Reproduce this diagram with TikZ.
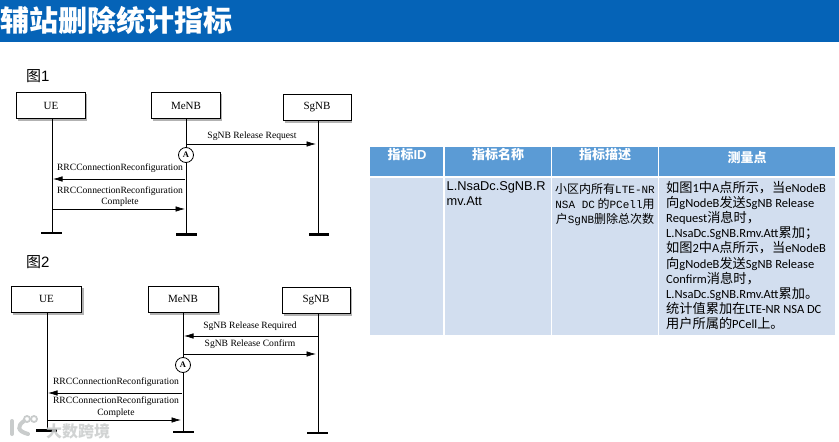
\documentclass[tikz,border=0pt]{standalone}
\usepackage{fontspec}
\setmainfont{Liberation Serif}
\newfontfamily\cjk{Noto Sans CJK SC}
\newfontfamily\sansf{Liberation Sans}
\newfontfamily\calib{Carlito}
\newfontfamily\monof{Liberation Mono}
\usetikzlibrary{arrows.meta}
\definecolor{barblue}{HTML}{0563B7}
\definecolor{headblue}{HTML}{5B9BD5}
\definecolor{cellblue}{HTML}{D2DEEF}
\definecolor{wmgray}{HTML}{C9CCCC}
\newcommand{\zh}[1]{{\cjk\fontsize{13.2}{15}\selectfont #1}}
\newcommand{\zd}[1]{{\monof\fontsize{11}{15}\selectfont #1}}
\tikzset{
  x=1pt,y=-1pt,
  entity/.style={draw=black,line width=0.8pt,fill=white,minimum height=26pt,inner sep=0pt,font=\fontsize{11}{12}\selectfont},
  shade box/.style={fill=black!30,draw=none},
  life/.style={line width=0.9pt},
  stopbar/.style={line width=2.8pt},
  msg/.style={line width=0.7pt,-{Latex[length=9.5pt,width=5.5pt]}},
  msglabel/.style={inner sep=0pt,font=\fontsize{9.6}{11.5}\selectfont,align=center},
  markA/.style={circle,draw=black,line width=0.8pt,fill=white,minimum size=15pt,inner sep=0pt,font=\bfseries\fontsize{8.5}{9}\selectfont},
  figlabel/.style={inner sep=0pt,anchor=west,font=\fontsize{15}{16}\selectfont},
  headtext/.style={inner sep=0pt,text=white,font=\cjk\bfseries\fontsize{13}{15}\selectfont},
  celltext/.style={inner sep=0pt,align=left,anchor=north west}
}
\begin{document}
\begin{tikzpicture}
\useasboundingbox (0,0) rectangle (839,442);
\fill[white] (0,0) rectangle (839,442);
\fill[barblue] (0,0) rectangle (839,42);
\node[inner sep=0pt,anchor=west,text=white] (title) at (0,20) {\cjk\bfseries\fontsize{29}{30}\selectfont 辅站删除统计指标};

% Figure 1
\node[figlabel] (f1) at (26,76) {\cjk 图{\sansf 1}};
\fill[shade box] (18,94) rectangle (87,120.5);
\fill[shade box] (153,94) rectangle (222,120.5);
\fill[shade box] (285,96) rectangle (352,122.5);
\node[entity,minimum width=69pt] (ue1) at (51,105.5) {UE};
\node[entity,minimum width=69pt] (me1) at (186,105.5) {MeNB};
\node[entity,minimum width=68pt] (sg1) at (317,107) {SgNB};
\coordinate (ue1b) at (52,233); \coordinate (me1b) at (186,234); \coordinate (sg1b) at (318,234);
\draw[life] (ue1b |- ue1.south) -- (ue1b);
\draw[life] (me1b |- me1.south) -- (me1b);
\draw[life] (sg1b |- sg1.south) -- (sg1b);
\draw[stopbar] (41,233) -- (62,233);
\draw[stopbar] (176,234.5) -- (197,234.5);
\draw[stopbar] (309,234.5) -- (329,234.5);
\coordinate (a1s) at (186,144); \coordinate (a1e) at (316,144);
\draw[msg] (a1s) -- (a1e);
\node[msglabel] (l11) at (252,136) {SgNB Release Request};
\node[markA] (A1) at (186,155) {A};
\coordinate (a2s) at (185,179); \coordinate (a2e) at (53,179);
\draw[msg] (a2s) -- (a2e);
\node[msglabel] (l12) at (120,168) {RRCConnectionReconfiguration};
\coordinate (a3s) at (53,209); \coordinate (a3e) at (185,209);
\draw[msg] (a3s) -- (a3e);
\node[msglabel] (l13) at (120,196.5) {RRCConnectionReconfiguration\\Complete};

% Figure 2
\node[figlabel] (f2) at (26,262) {\cjk 图{\sansf 2}};
\fill[shade box] (13,288) rectangle (84,314.5);
\fill[shade box] (150,288) rectangle (220,314.5);
\fill[shade box] (284,289) rectangle (352,315.5);
\node[entity,minimum width=70pt] (ue2) at (46.5,299) {UE};
\node[entity,minimum width=70pt] (me2) at (183,299) {MeNB};
\node[entity,minimum width=68pt] (sg2) at (316,300) {SgNB};
\coordinate (ue2b) at (47,430); \coordinate (me2b) at (183,432); \coordinate (sg2b) at (318,433);
\draw[life] (ue2b |- ue2.south) -- (ue2b);
\draw[life] (me2b |- me2.south) -- (me2b);
\draw[life] (sg2b |- sg2.south) -- (sg2b);
\draw[stopbar] (36,430.5) -- (57,430.5);
\draw[stopbar] (173,432) -- (194,432);
\draw[stopbar] (307,433) -- (328,433);
\coordinate (b1s) at (318,336); \coordinate (b1e) at (184,336);
\draw[msg] (b1s) -- (b1e);
\node[msglabel] (l21) at (250,326) {SgNB Release Required};
\coordinate (b2s) at (183,354); \coordinate (b2e) at (316,354);
\draw[msg] (b2s) -- (b2e);
\node[msglabel] (l22) at (250,344) {SgNB Release Confirm};
\node[markA] (A2) at (183,365) {A};
\coordinate (b3s) at (182,393); \coordinate (b3e) at (48,393);
\draw[msg] (b3s) -- (b3e);
\node[msglabel] (l23) at (116,382) {RRCConnectionReconfiguration};
\coordinate (b4s) at (47,420); \coordinate (b4e) at (181,420);
\draw[msg] (b4s) -- (b4e);
\node[msglabel] (l24) at (116,407) {RRCConnectionReconfiguration\\Complete};

% Watermark
\node[inner sep=0pt,anchor=west,text=wmgray,opacity=0.85] (wm) at (46,431) {\cjk\bfseries\fontsize{16}{17}\selectfont 大数跨境};
\draw[wmgray,line width=4pt,line cap=round] (12,421) -- (12,434);
\draw[wmgray,line width=4pt,line cap=round] (24,421) .. controls (17,426) and (17,431) .. (28,434);
\draw[wmgray,line width=1.8pt] (27,419) circle (3);
\draw[wmgray,line width=1.8pt] (34,419) circle (3);

% Table
\fill[headblue] (370,147) rectangle (443,176);
\fill[headblue] (444.5,147) rectangle (550.5,176);
\fill[headblue] (552,147) rectangle (657.5,176);
\fill[headblue] (659,147) rectangle (835,176);
\fill[cellblue] (370,178) rectangle (443,335);
\fill[cellblue] (444.5,178) rectangle (550.5,335);
\fill[cellblue] (552,178) rectangle (657.5,335);
\fill[cellblue] (659,178) rectangle (835,335);
\node[headtext] (h1) at (407,155) {指标{\sansf\bfseries ID}};
\node[headtext] (h2) at (498,155) {指标名称};
\node[headtext] (h3) at (605,155) {指标描述};
\node[headtext] (h4) at (747,158) {测量点};
\node[celltext,font=\sansf\fontsize{12.8}{15}\selectfont] (c2) at (446.5,181) {L.NsaDc.SgNB.R\\mv.Att};
\node[inner sep=0pt,align=center,font=\cjk\fontsize{12}{15}\selectfont] (c3) at (605,205)
 {小区内所有\zd{LTE-NR}\\\zd{NSA DC} 的\zd{PCell}用\\户\zd{SgNB}删除总次数};
\node[celltext,font=\calib\fontsize{12.5}{15.15}\selectfont] (c4) at (666,181)
 {\zh{如图}1\zh{中}A\zh{点所示，当}eNodeB\\
  \zh{向}gNodeB\zh{发送}SgNB Release\\
  Request\zh{消息时，}\\
  L.NsaDc.SgNB.Rmv.Att\zh{累加；}\\
  \zh{如图}2\zh{中}A\zh{点所示，当}eNodeB\\
  \zh{向}gNodeB\zh{发送}SgNB Release\\
  Confirm\zh{消息时，}\\
  L.NsaDc.SgNB.Rmv.Att\zh{累加。}\\
  \zh{统计值累加在}LTE-NR NSA DC\\
  \zh{用户所属的}PCell\zh{上。}};
\end{tikzpicture}
\end{document}
